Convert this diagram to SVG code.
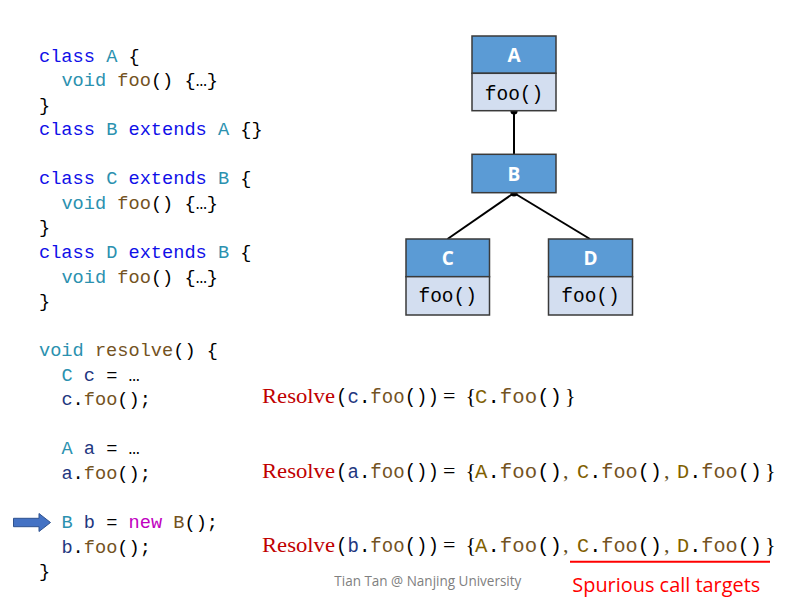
<svg xmlns="http://www.w3.org/2000/svg" width="795" height="604" viewBox="0 0 795 604">
<defs>
<style>
.code{font-family:"Liberation Mono","DejaVu Sans Mono",monospace;font-size:18.65px;fill:#000;white-space:pre}
.kw{fill:#1010E8}
.ty{fill:#2B91AF}
.fn{fill:#74531F}
.vr{fill:#1F377F}
.nw{fill:#C000C0}
.hdr{fill:#5B9BD5;stroke:#3A3A3A;stroke-width:1.5}
.bdy{fill:#D3DEF0;stroke:#3A3A3A;stroke-width:1.5}
.lbl{font-family:"Open Sans","Liberation Sans",sans-serif;font-weight:bold;font-size:19px;fill:#fff;text-anchor:middle}
.mth{font-family:"Liberation Mono","DejaVu Sans Mono",monospace;font-size:19.5px;fill:#000;text-anchor:middle}
.conn{stroke:#000;stroke-width:2;fill:none}
.res{font-family:"Liberation Serif","Times New Roman",serif;font-size:22px;fill:#C00000}
.tm{font-family:"Liberation Serif","Times New Roman",serif;font-size:22px;fill:#000}
.mono{font-family:"Liberation Mono","DejaVu Sans Mono",monospace;font-size:19.5px;fill:#000}
.br{fill:#7F6000}
.cm{font-family:"Liberation Serif","Times New Roman",serif;font-size:22px;fill:#5A4A20}
</style>
</defs>
<rect width="795" height="604" fill="#fff"/>

<g id="code" class="code">
<text x="39" y="61.5"><tspan class="kw">class</tspan> <tspan class="ty">A</tspan> {</text>
<text x="61.4" y="86"><tspan class="ty">void</tspan> <tspan class="fn">foo</tspan>() {…}</text>
<text x="39" y="110.6">}</text>
<text x="39" y="135.2"><tspan class="kw">class</tspan> <tspan class="ty">B</tspan> <tspan class="kw">extends</tspan> <tspan class="ty">A</tspan> {}</text>
<text x="39" y="184.3"><tspan class="kw">class</tspan> <tspan class="ty">C</tspan> <tspan class="kw">extends</tspan> <tspan class="ty">B</tspan> {</text>
<text x="61.4" y="208.8"><tspan class="ty">void</tspan> <tspan class="fn">foo</tspan>() {…}</text>
<text x="39" y="233.4">}</text>
<text x="39" y="257.9"><tspan class="kw">class</tspan> <tspan class="ty">D</tspan> <tspan class="kw">extends</tspan> <tspan class="ty">B</tspan> {</text>
<text x="61.4" y="282.5"><tspan class="ty">void</tspan> <tspan class="fn">foo</tspan>() {…}</text>
<text x="39" y="307">}</text>
<text x="39" y="356.1"><tspan class="ty">void</tspan> <tspan class="fn">resolve</tspan>() {</text>
<text x="61.4" y="380.7"><tspan class="ty">C</tspan> <tspan class="vr">c</tspan> = …</text>
<text x="61.4" y="405.2"><tspan class="vr">c</tspan>.<tspan class="fn">foo</tspan>();</text>
<text x="61.4" y="454.3"><tspan class="ty">A</tspan> <tspan class="vr">a</tspan> = …</text>
<text x="61.4" y="478.9"><tspan class="vr">a</tspan>.<tspan class="fn">foo</tspan>();</text>
<text x="61.4" y="528"><tspan class="ty">B</tspan> <tspan class="vr">b</tspan> = <tspan class="nw">new</tspan> <tspan class="fn">B</tspan>();</text>
<text x="61.4" y="552.5"><tspan class="vr">b</tspan>.<tspan class="fn">foo</tspan>();</text>
<text x="39" y="577">}</text>
</g>

<g id="arrow">
<path d="M13.5,518.3 H39 V513.5 L50.5,522.5 L39,531.5 V526.7 H13.5 Z" fill="#4472C4" stroke="#2F528F" stroke-width="1"/>
</g>

<g id="connectors">
<line class="conn" x1="514" y1="111" x2="514" y2="154.5"/>
<circle cx="514" cy="111" r="3.6" fill="#000"/>
<line class="conn" x1="514" y1="193" x2="447.5" y2="239"/>
<line class="conn" x1="514" y1="193" x2="590" y2="239"/>
<circle cx="514" cy="193" r="3.6" fill="#000"/>
</g>

<g id="nodeA">
<rect class="hdr" x="472" y="36" width="84" height="37.3"/>
<rect class="bdy" x="472" y="73.3" width="84" height="37.4"/>
<text class="lbl" x="514" y="62">A</text>
<text class="mth" x="514" y="100">foo()</text>
</g>
<g id="nodeB">
<rect class="hdr" x="472" y="154.3" width="84" height="38.4"/>
<text class="lbl" x="514" y="180.5">B</text>
</g>
<g id="nodeC">
<rect class="hdr" x="406" y="239" width="83.5" height="37.7"/>
<rect class="bdy" x="406" y="276.7" width="83.5" height="38.3"/>
<text class="lbl" x="447.7" y="265">C</text>
<text class="mth" x="447.7" y="302">foo()</text>
</g>
<g id="nodeD">
<rect class="hdr" x="548.5" y="239" width="84" height="37.7"/>
<rect class="bdy" x="548.5" y="276.7" width="84" height="38.3"/>
<text class="lbl" x="590.5" y="265">D</text>
<text class="mth" x="590.5" y="302">foo()</text>
</g>

<g id="resolve1">
<text class="res" x="262" y="403.3" textLength="73" lengthAdjust="spacingAndGlyphs">Resolve</text>
<text class="mono" x="336" y="403.3" textLength="103" lengthAdjust="spacingAndGlyphs">(<tspan class="vr">c</tspan>.<tspan class="fn">foo</tspan>())</text>
<text class="tm" x="443" y="403.3">=</text>
<text class="tm" x="465.5" y="403.3">{</text>
<text class="mono" x="475" y="403.3" textLength="87" lengthAdjust="spacingAndGlyphs"><tspan class="br">C</tspan>.<tspan class="fn">foo</tspan>()</text>
<text class="tm" x="565" y="403.3">}</text>
</g>

<g id="resolve2">
<text class="res" x="262" y="477.8" textLength="73" lengthAdjust="spacingAndGlyphs">Resolve</text>
<text class="mono" x="336" y="477.8" textLength="103" lengthAdjust="spacingAndGlyphs">(<tspan class="vr">a</tspan>.<tspan class="fn">foo</tspan>())</text>
<text class="tm" x="443" y="477.8">=</text>
<text class="tm" x="465.5" y="477.8">{</text>
<text class="mono" x="475" y="477.8" textLength="87" lengthAdjust="spacingAndGlyphs"><tspan class="br">A</tspan>.<tspan class="fn">foo</tspan>()</text>
<text class="cm" x="563" y="477.8">,</text>
<text class="mono" x="577" y="477.8" textLength="85" lengthAdjust="spacingAndGlyphs"><tspan class="br">C</tspan>.<tspan class="fn">foo</tspan>()</text>
<text class="cm" x="664" y="477.8">,</text>
<text class="mono" x="677" y="477.8" textLength="85" lengthAdjust="spacingAndGlyphs"><tspan class="br">D</tspan>.<tspan class="fn">foo</tspan>()</text>
<text class="tm" x="765" y="477.8">}</text>
</g>

<g id="resolve3">
<text class="res" x="262" y="552.3" textLength="73" lengthAdjust="spacingAndGlyphs">Resolve</text>
<text class="mono" x="336" y="552.3" textLength="103" lengthAdjust="spacingAndGlyphs">(<tspan class="vr">b</tspan>.<tspan class="fn">foo</tspan>())</text>
<text class="tm" x="443" y="552.3">=</text>
<text class="tm" x="465.5" y="552.3">{</text>
<text class="mono" x="475" y="552.3" textLength="87" lengthAdjust="spacingAndGlyphs"><tspan class="br">A</tspan>.<tspan class="fn">foo</tspan>()</text>
<text class="cm" x="563" y="552.3">,</text>
<text class="mono" x="577" y="552.3" textLength="85" lengthAdjust="spacingAndGlyphs"><tspan class="br">C</tspan>.<tspan class="fn">foo</tspan>()</text>
<text class="cm" x="664" y="552.3">,</text>
<text class="mono" x="677" y="552.3" textLength="85" lengthAdjust="spacingAndGlyphs"><tspan class="br">D</tspan>.<tspan class="fn">foo</tspan>()</text>
<text class="tm" x="765" y="552.3">}</text>
<line x1="570" y1="561.7" x2="770" y2="561.7" stroke="#FF0000" stroke-width="2"/>
<text x="572.3" y="591.7" font-family="'Open Sans','Liberation Sans',sans-serif" font-size="20px" fill="#FF0000" textLength="188" lengthAdjust="spacingAndGlyphs">Spurious call targets</text>
</g>

<text x="334.3" y="586" font-family="'Open Sans','Liberation Sans',sans-serif" font-size="14px" fill="#808080" textLength="187" lengthAdjust="spacingAndGlyphs">Tian Tan @ Nanjing University</text>
</svg>
